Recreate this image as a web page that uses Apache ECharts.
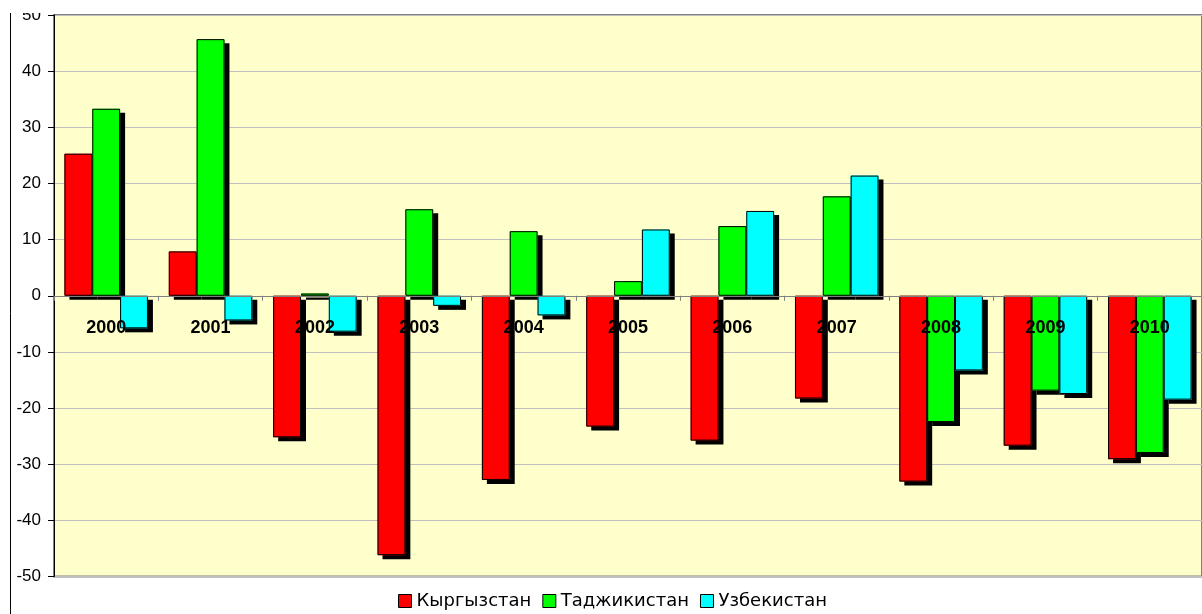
<!DOCTYPE html>
<html>
<head>
<meta charset="utf-8">
<script src="https://cdn.jsdelivr.net/npm/echarts@6/dist/echarts.min.js"></script>
<style>html,body{margin:0;padding:0;background:#fff;}#c{width:1202px;height:614px;}</style>
</head>
<body>
<div id="c"></div>
<script>
const years = ['2000','2001','2002','2003','2004','2005','2006','2007','2008','2009','2010'];
const seriesNames = ['Кыргызстан','Таджикистан','Узбекистан'];
const kyrgyzstan = [25.3, 7.9, -25.2, -46.2, -32.8, -23.3, -25.8, -18.3, -33.1, -26.7, -29.1];
const tajikistan = [33.3, 45.7, 0.4, 15.4, 11.5, 2.6, 12.4, 17.7, -22.5, -16.9, -28.0];
const uzbekistan = [-5.8, -4.4, -6.4, -1.8, -3.5, 11.8, 15.1, 21.4, -13.3, -17.5, -18.5];
const colors = ['#FF0000','#00FF00','#00FFFF'];

const FONT = 'Arial, "Liberation Sans", sans-serif';
const chart = echarts.init(document.getElementById('c'), null, {renderer:'canvas'});
const dataSets = [kyrgyzstan, tajikistan, uzbekistan];

// layer 0: bars casting the drop shadow (no border, so the outline casts no inner shadow)
const shadowLayer = dataSets.map((d,i)=>({
  name: seriesNames[i], type: 'bar', data: d, xAxisIndex: 0, z: 2,
  barGap: '0%', barCategoryGap: '20%',
  itemStyle: {color: colors[i], borderWidth: 0, shadowColor: '#000', shadowBlur: 0, shadowOffsetX: 5, shadowOffsetY: 4}
}));
// layer 1: same bars with the thin black outline, no shadow
const outlineLayer = dataSets.map((d,i)=>({
  name: seriesNames[i], type: 'bar', data: d, xAxisIndex: 1, z: 3,
  barGap: '0%', barCategoryGap: '20%',
  itemStyle: {color: colors[i], borderColor: '#000', borderWidth: 1}
}));

chart.setOption({
  animation: false,
  backgroundColor: '#fff',
  grid: {left: 54, right: -12, top: 15, bottom: 37.5, show: true, backgroundColor: '#FFFFCC', borderColor: '#808080', borderWidth: 2},
  legend: {
    bottom: 4, left: 398, padding: 0, itemWidth: 13, itemHeight: 13, itemGap: 11,
    textStyle: {fontFamily: '"DejaVu Sans", sans-serif', fontSize: 18, color: '#000'},
    data: seriesNames.map((n,i)=>({name:n, icon:'rect', itemStyle:{color:colors[i], borderColor:'#000', borderWidth:1, shadowBlur:0, shadowOffsetX:0, shadowOffsetY:0, shadowColor:'transparent'}}))
  },
  xAxis: [{
    type: 'category', data: years, z: 10,
    axisLine: {onZero: true, lineStyle: {color: '#808080', width: 1}},
    axisTick: {show: true, length: 5, lineStyle: {color: '#808080'}},
    axisLabel: {fontFamily: FONT, fontSize: 18, fontWeight: 'bold', color: '#000', margin: -257},
    splitLine: {show: false}
  }, {
    type: 'category', data: years, show: false
  }],
  yAxis: {
    type: 'value', min: -50, max: 50, interval: 10,
    axisLine: {show: true, lineStyle: {color: '#000', width: 1}},
    axisTick: {show: true, length: 6, lineStyle: {color: '#000'}},
    axisLabel: {fontFamily: FONT, fontSize: 17, color: '#000', margin: 13},
    splitLine: {show: true, lineStyle: {color: '#C0C0C0', width: 1}}
  },
  graphic: [
    {type: 'rect', z: 100, shape: {x: 0, y: 0, width: 60, height: 13}, style: {fill: '#fff'}},
    {type: 'line', z: 100, shape: {x1: 10.5, y1: 13, x2: 10.5, y2: 614}, style: {stroke: '#000', lineWidth: 1}}
  ],
  series: shadowLayer.concat(outlineLayer)
});
</script>
</body>
</html>
